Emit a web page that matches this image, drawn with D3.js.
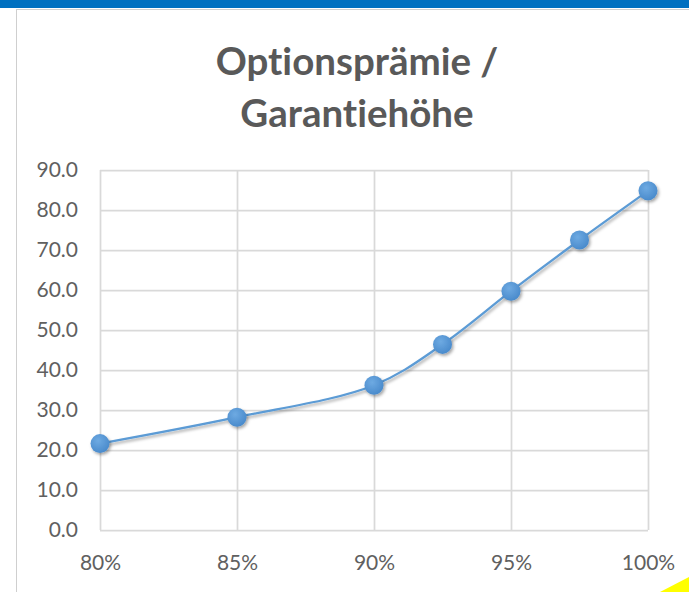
<!DOCTYPE html>
<html lang="de">
    <head>
        <meta charset="utf-8">
        <title>Optionsprämie / Garantiehöhe</title>
        <script src="https://cdn.jsdelivr.net/npm/d3@7"></script>
        <style type="text/css">
            body { margin: 0; background: #fff; }
            svg text { font-variant-ligatures: none; }
            .axis text { font-family: Lato, sans-serif; font-size: 21px; fill: #606060; }
            .axis .domain { display: none; }
            .axis line { stroke: #d9d9d9; stroke-width: 1.75; }
        </style>
    </head>
    <body>
        <script type="text/javascript">
            // data
            var garantie = [0.80, 0.85, 0.90, 0.925, 0.95, 0.975, 1.00];
            var praemie = [21.6, 28.2, 36.2, 46.4, 59.7, 72.5, 84.8];
            var xTicks = [0.80, 0.85, 0.90, 0.95, 1.00];
            var yTicks = [0, 10, 20, 30, 40, 50, 60, 70, 80, 90];
            var titleLines = ['Optionsprämie /', 'Garantiehöhe'];

            var w = 689;
            var h = 592;
            var plotLeft = 100, plotRight = 648, plotTop = 170, plotBottom = 530;

            var svg = d3.select('body').append('svg')
                        .attr('width', w)
                        .attr('height', h);

            // blue band + chart frame
            svg.append('rect').attr('x', 0).attr('y', 0).attr('width', w).attr('height', 8).attr('fill', '#0070c0');
            svg.append('rect').attr('x', 16.5).attr('y', 9.5).attr('width', w).attr('height', h)
                .attr('fill', 'none').attr('stroke', '#cfcfcf').attr('stroke-width', 1);

            // title
            svg.selectAll('text.title')
                .data(titleLines)
                .enter()
                .append('text')
                .attr('class', 'title')
                .text(function(d) { return d; })
                .attr('x', 357)
                .attr('y', function(d, i) { return 75 + i * 52; })
                .attr('text-anchor', 'middle')
                .attr('font-family', 'Lato, sans-serif')
                .attr('font-weight', 'bold')
                .attr('font-size', '38.5px')
                .attr('fill', '#595959');

            var xScale = d3.scaleLinear().domain([0.80, 1.00]).range([plotLeft, plotRight]);
            var yScale = d3.scaleLinear().domain([0, 90]).range([plotBottom, plotTop]);

            // gridlines + tick labels
            svg.append('g')
                .attr('class', 'axis')
                .attr('transform', 'translate(' + plotLeft + ',0)')
                .call(d3.axisLeft(yScale).tickValues(yTicks).tickFormat(d3.format('.1f'))
                        .tickSize(-(plotRight - plotLeft)).tickPadding(22));

            svg.append('g')
                .attr('class', 'axis')
                .attr('transform', 'translate(0,' + plotBottom + ')')
                .call(d3.axisBottom(xScale).tickValues(xTicks).tickFormat(d3.format('.0%'))
                        .tickSize(-(plotBottom - plotTop)).tickPadding(25));

            // marker look
            var defs = svg.append('defs');
            var grad = defs.append('radialGradient').attr('id', 'dot').attr('cx', '40%').attr('cy', '35%').attr('r', '65%');
            grad.append('stop').attr('offset', '0%').attr('stop-color', '#6eaae2');
            grad.append('stop').attr('offset', '100%').attr('stop-color', '#4a8bcc');
            var shadow = defs.append('filter').attr('id', 'shadow').attr('x', '-50%').attr('y', '-50%').attr('width', '200%').attr('height', '200%');
            shadow.append('feDropShadow').attr('dx', 1.5).attr('dy', 2).attr('stdDeviation', 1.8)
                .attr('flood-color', '#000').attr('flood-opacity', 0.35);

            var points = garantie.map(function(g, i) { return [g, praemie[i]]; });

            var line = d3.line()
                .x(function(d) { return xScale(d[0]); })
                .y(function(d) { return yScale(d[1]); })
                .curve(d3.curveCatmullRom);

            svg.append('path')
                .datum(points)
                .attr('d', line)
                .attr('fill', 'none')
                .attr('stroke', '#5b9bd5')
                .attr('stroke-width', 2.25)
                .attr('filter', 'url(#shadow)');

            svg.selectAll('circle')
                .data(points)
                .enter()
                .append('circle')
                .attr('cx', function(d) { return xScale(d[0]); })
                .attr('cy', function(d) { return yScale(d[1]); })
                .attr('r', 9.5)
                .attr('fill', 'url(#dot)')
                .attr('filter', 'url(#shadow)');

            // yellow corner
            svg.append('path')
                .attr('d', 'M660,592 L689,577 L689,592 Z')
                .attr('fill', '#ffff00');
        </script>
    </body>
</html>
